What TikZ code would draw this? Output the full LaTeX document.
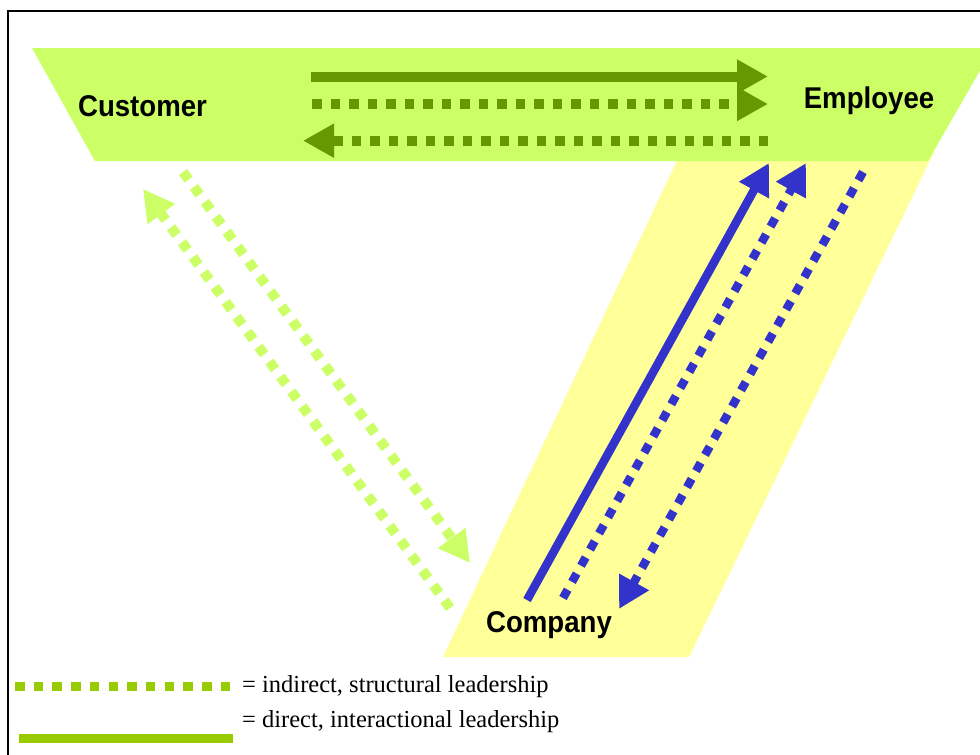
\documentclass[tikz,border=0pt]{standalone}
\usepackage{fontspec}
\setmainfont{Liberation Serif}
\newfontfamily\labfont{Liberation Sans}
\usetikzlibrary{arrows.meta}
\definecolor{lime}{HTML}{CCFF66}
\definecolor{paleyellow}{HTML}{FFFF99}
\definecolor{dkgreen}{HTML}{669900}
\definecolor{arrowblue}{HTML}{3333CC}
\definecolor{leggreen}{HTML}{99CC00}
\tikzset{
  bigtip/.style={-{Triangle[length=31pt,width=32pt]}},
  dotpat/.style={dash pattern=on 9.5pt off 9pt},
  greenarrow/.style={line width=10pt, draw=dkgreen, bigtip},
  bluearrow/.style={line width=8.5pt, draw=arrowblue, bigtip},
  limearrow/.style={line width=10pt, draw=lime, bigtip},
  lab/.style={font=\labfont\bfseries\fontsize{30}{34}\selectfont, inner sep=0pt, anchor=base},
  legtext/.style={font=\fontsize{24.5}{28}\selectfont, inner sep=0pt, anchor=base west}
}
\begin{document}
\begin{tikzpicture}[x=1pt,y=-1pt]
\useasboundingbox (0,0) rectangle (980,755);
\fill[white] (0,0) rectangle (980,755);
% regions
\fill[paleyellow] (682,150) -- (935,150) -- (689,657) -- (443,657) -- cycle;
\fill[lime] (32,48) -- (993,48) -- (928,161) -- (95,161) -- cycle;
% frame
\draw[line width=2pt] (8,765) -- (8,10.7) -- (995,10.7);
% labels
\node[lab] (cust) at (142.5,116.7) {\scalebox{0.92}[1]{Customer}};
\node[lab] (empl) at (869,108) {\scalebox{0.92}[1]{Employee}};
\node[lab] (comp) at (549,632) {\scalebox{0.92}[1]{Company}};
% customer <-> employee
\coordinate (h1a) at (311,76.5);  \coordinate (h1b) at (768,76.5);
\coordinate (h2a) at (312,104);   \coordinate (h2b) at (768,104);
\coordinate (h3a) at (768,140.7); \coordinate (h3b) at (303,140.7);
\draw[greenarrow] (h1a) -- (h1b);
\draw[greenarrow, dotpat] (h2a) -- (h2b);
\draw[greenarrow, dotpat] (h3a) -- (h3b);
% company <-> employee
\coordinate (b1a) at (527,600); \coordinate (b1b) at (769,163);
\coordinate (b2a) at (563,598); \coordinate (b2b) at (806,163);
\coordinate (b3a) at (863,172); \coordinate (b3b) at (619,609);
\draw[bluearrow] (b1a) -- (b1b);
\draw[bluearrow, dotpat] (b2a) -- (b2b);
\draw[bluearrow, dotpat] (b3a) -- (b3b);
% customer <-> company
\coordinate (g1a) at (183,172); \coordinate (g1b) at (470,563);
\coordinate (g2a) at (450,608); \coordinate (g2b) at (143,189);
\draw[limearrow, dotpat] (g1a) -- (g1b);
\draw[limearrow, dotpat] (g2a) -- (g2b);
% legend
\coordinate (la) at (15,686); \coordinate (lb) at (230.5,686);
\draw[line width=9pt, draw=leggreen, dash pattern=on 9.5pt off 9.2pt] (la) -- (lb);
\fill[leggreen] (19,734) rectangle (233,743);
\node[legtext] (leg1) at (242,692) {= indirect, structural leadership};
\node[legtext] (leg2) at (242,727) {= direct, interactional leadership};
\end{tikzpicture}
\end{document}
